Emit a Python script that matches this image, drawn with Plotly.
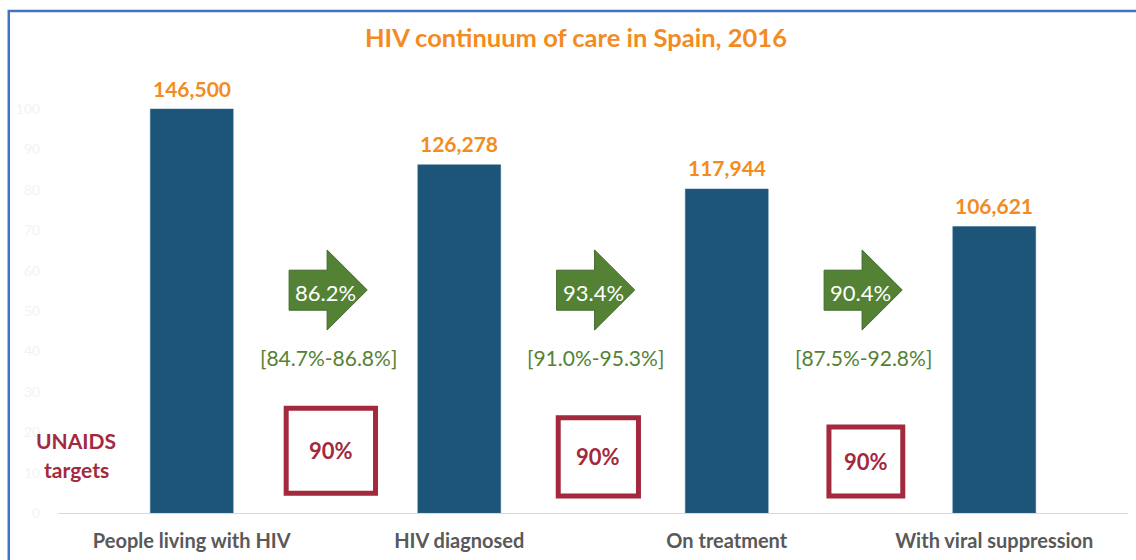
import plotly.graph_objects as go

# ---------------- data ----------------
categories = ["People living with HIV", "HIV diagnosed", "On treatment", "With viral suppression"]
bar_heights = [100, 86.2, 80.2, 70.9]          # bar height on the 0-100 axis
people_counts = ["146,500", "126,278", "117,944", "106,621"]
step_pct = ["86.2%", "93.4%", "90.4%"]
step_ci = ["[84.7%-86.8%]", "[91.0%-95.3%]", "[87.5%-92.8%]"]
unaids_targets = ["90%", "90%", "90%"]
y_ticks = [0, 10, 20, 30, 40, 50, 60, 70, 80, 90, 100]

# ---------------- style ----------------
FONT = "Lato"
BAR_COLOR = "#1D5579"
ORANGE = "#F38B1F"
GREEN = "#548235"
GREEN_DARK = "#41682A"
RED = "#A3293D"
GREY = "#595959"

arrow_half = 0.146
arrow_head_start = -0.004
arrow_shaft = (50.2, 60.1)
arrow_head = (45.3, 65.1)
box_half_w = [0.167, 0.150, 0.138]
box_top = [25.9, 23.6, 21.3]
box_bottom = [4.9, 4.2, 4.2]

x_idx = list(range(len(categories)))

fig = go.Figure()
fig.add_trace(go.Bar(
    x=x_idx, y=bar_heights, width=0.31,
    marker=dict(color=BAR_COLOR, line=dict(color="#2E6A92", width=0.5)),
    hoverinfo="skip", showlegend=False,
))

annotations = []
shapes = []

# value labels above bars
for i, (h, lab) in enumerate(zip(bar_heights, people_counts)):
    annotations.append(dict(x=i, y=h, xref="x", yref="y", text=f"<b>{lab}</b>",
                            showarrow=False, xanchor="center", yanchor="middle", yshift=21,
                            font=dict(family=FONT, size=21, color=ORANGE)))

# arrows, percentages, CIs, UNAIDS boxes
for k in range(len(step_pct)):
    c = k + 0.51
    x0, xh, x1 = c - arrow_half, c + arrow_head_start, c + arrow_half
    ym = (arrow_head[0] + arrow_head[1]) / 2
    path = (f"M {x0},{arrow_shaft[0]} L {xh},{arrow_shaft[0]} L {xh},{arrow_head[0]} "
            f"L {x1},{ym} L {xh},{arrow_head[1]} L {xh},{arrow_shaft[1]} "
            f"L {x0},{arrow_shaft[1]} Z")
    shapes.append(dict(type="path", path=path, xref="x", yref="y",
                       fillcolor=GREEN, line=dict(color=GREEN_DARK, width=1), layer="above"))
    annotations.append(dict(x=k + 0.5, y=54.5, xref="x", yref="y", text=step_pct[k],
                            showarrow=False, xanchor="center", yanchor="middle",
                            font=dict(family=FONT, size=22, color="white")))
    annotations.append(dict(x=k + 0.51, y=38.6, xref="x", yref="y", text=step_ci[k],
                            showarrow=False, xanchor="center", yanchor="middle",
                            font=dict(family=FONT, size=21, color=GREEN)))
    bc = k + 0.52
    shapes.append(dict(type="rect", xref="x", yref="y",
                       x0=bc - box_half_w[k], x1=bc + box_half_w[k],
                       y0=box_bottom[k], y1=box_top[k],
                       line=dict(color=RED, width=5), fillcolor="rgba(0,0,0,0)", layer="above"))
    annotations.append(dict(x=bc, y=(box_bottom[k] + box_top[k]) / 2, xref="x", yref="y",
                            text=f"<b>{unaids_targets[k]}</b>", showarrow=False,
                            xanchor="center", yanchor="middle",
                            font=dict(family=FONT, size=22, color=RED)))

# UNAIDS label
annotations.append(dict(x=0.017, y=0.159, xref="paper", yref="paper", text="<b>UNAIDS</b>",
                        showarrow=False, xanchor="center", yanchor="middle",
                        font=dict(family=FONT, size=21, color=RED)))
annotations.append(dict(x=0.017, y=0.095, xref="paper", yref="paper", text="<b>targets</b>",
                        showarrow=False, xanchor="center", yanchor="middle",
                        font=dict(family=FONT, size=21, color=RED)))

# outer blue frame (left and top edges visible, the rest runs off the page)
shapes.append(dict(type="rect", xref="paper", yref="paper",
                   x0=-0.0460, x1=1.02, y0=-0.15, y1=1.1082,
                   line=dict(color="#4472C4", width=2.5), fillcolor="rgba(0,0,0,0)", layer="above"))

fig.update_layout(
    width=1136, height=560,
    margin=dict(l=58, r=8, t=60, b=47),
    paper_bgcolor="white", plot_bgcolor="white",
    title=dict(text="<b>HIV continuum of care in Spain, 2016</b>", x=0.507, xref="container",
               y=1 - 38 / 560, yref="container", xanchor="center", yanchor="middle",
               font=dict(family=FONT, size=25.5, color=ORANGE)),
    xaxis=dict(range=[-0.5, 3.5], tickvals=x_idx, ticktext=[f"<b>{c}</b>" for c in categories],
               showline=True, linecolor="#D9D9D9", linewidth=1, showgrid=False, zeroline=False,
               ticks="outside", ticklen=10, tickcolor="rgba(0,0,0,0)",
               tickfont=dict(family=FONT, size=20, color=GREY), fixedrange=True),
    yaxis=dict(range=[0, 453 / 4.04], tickvals=y_ticks, showgrid=False, zeroline=False,
               showline=False, ticks="outside", ticklen=14, tickcolor="rgba(0,0,0,0)",
               tickfont=dict(family=FONT, size=14, color="#F3F3F3"), fixedrange=True),
    shapes=shapes, annotations=annotations, bargap=0.69,
)

fig.write_html("out.html", config={"displayModeBar": False},
               post_script="document.body.style.margin='0';document.body.style.overflow='hidden';")
